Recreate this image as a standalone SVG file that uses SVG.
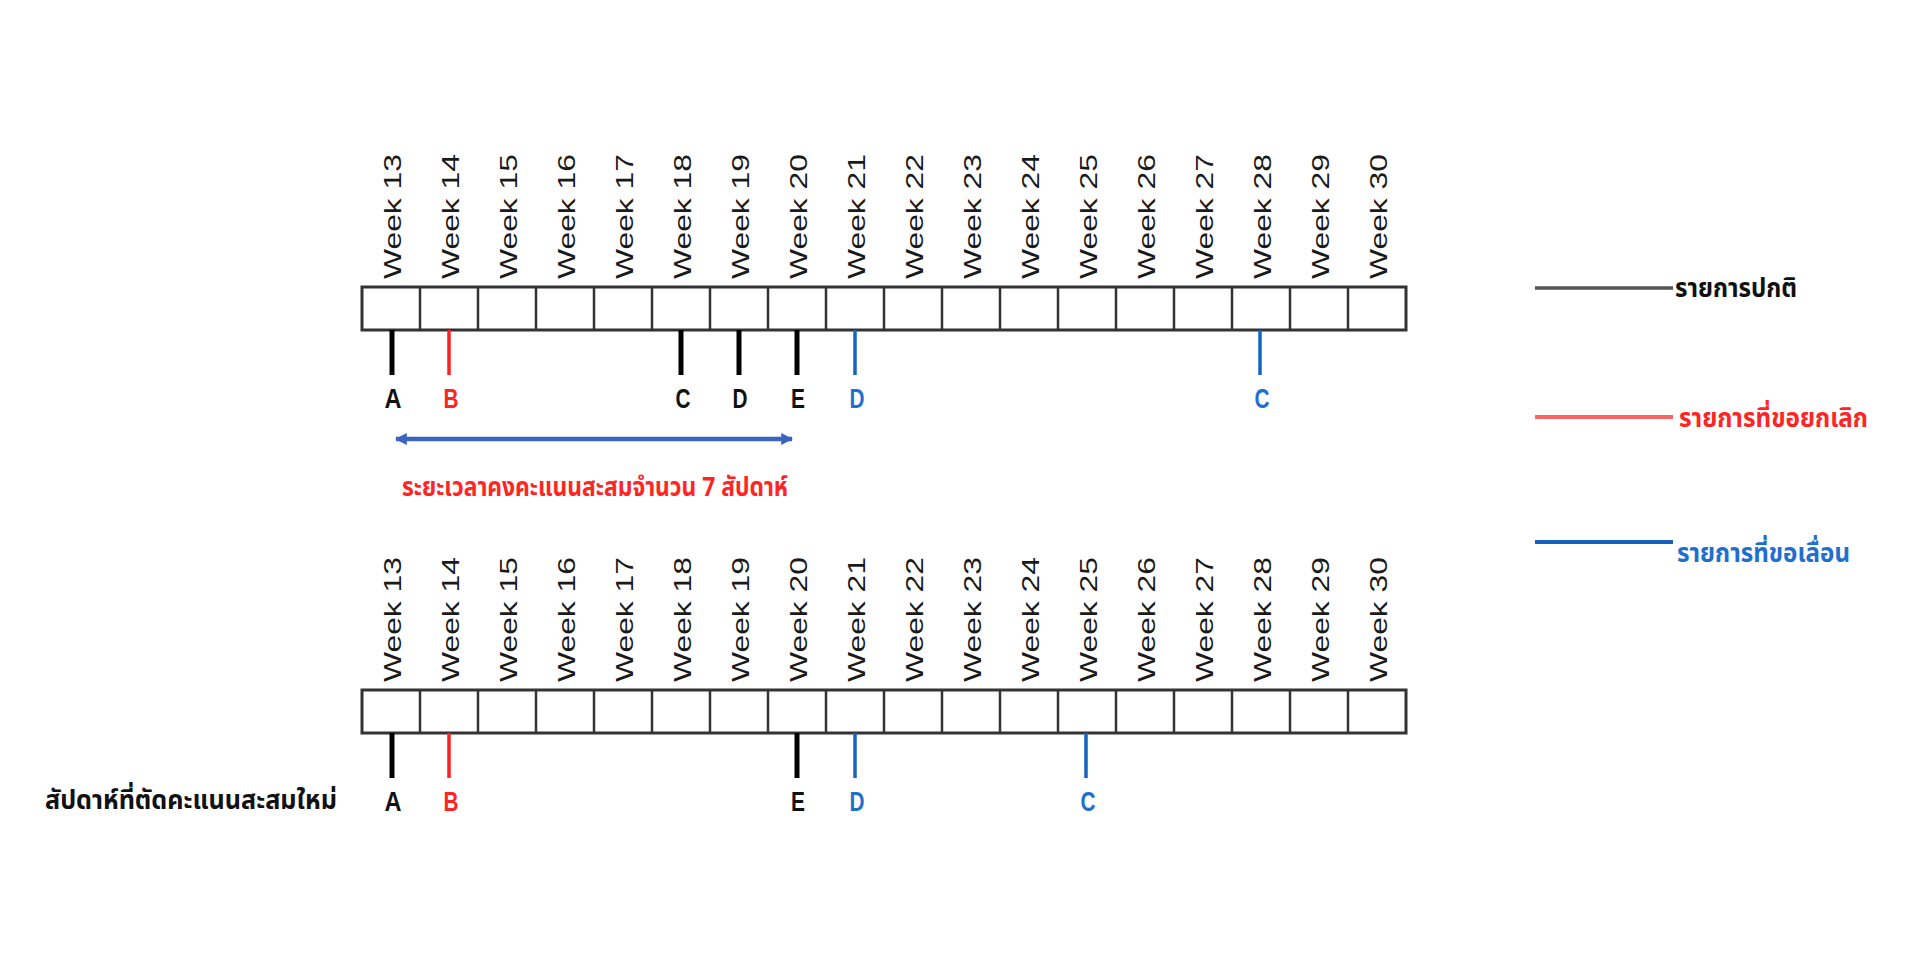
<svg xmlns="http://www.w3.org/2000/svg" width="1924" height="956" viewBox="0 0 1924 956">
<defs>
<style>
.wk{font-family:"Liberation Sans",Arial,sans-serif;font-size:24px;fill:#1a1a1a;}
.box{fill:#fff;stroke:#333;stroke-width:3;}
.div{stroke:#333;stroke-width:2.5;}
.lbl{font-family:"Liberation Sans",Arial,sans-serif;font-size:28px;font-weight:bold;text-anchor:middle;}
.th{font-family:"Noto Sans Thai","Noto Sans Thai UI","Loma","Garuda","Tlwg Typo","Noto Sans","DejaVu Sans",sans-serif;font-size:26px;font-weight:bold;}
.k{fill:#111;} .r{fill:#ff2525;} .b{fill:#1f6fce;}
.tk{stroke:#000;stroke-width:5;} .tr{stroke:#ff2020;stroke-width:3.5;} .tb{stroke:#1565c0;stroke-width:3.5;}
</style>
<marker id="ah" viewBox="0 0 10 10" refX="9" refY="5" markerWidth="12" markerHeight="12" markerUnits="userSpaceOnUse" orient="auto-start-reverse">
<path d="M0,0 L10,5 L0,10 z" fill="#3b63c4"/>
</marker>
</defs>
<rect width="1924" height="956" fill="#fff"/>

<g id="chart-top">
<rect class="box" x="362" y="287" width="1044" height="43"/>
<path class="div" d="M420,287V330M478,287V330M536,287V330M594,287V330M652,287V330M710,287V330M768,287V330M826,287V330M884,287V330M942,287V330M1000,287V330M1058,287V330M1116,287V330M1174,287V330M1232,287V330M1290,287V330M1348,287V330"/>
<g class="wk">
<text transform="translate(401,279) rotate(-90)" textLength="125" lengthAdjust="spacingAndGlyphs">Week 13</text>
<text transform="translate(459,279) rotate(-90)" textLength="125" lengthAdjust="spacingAndGlyphs">Week 14</text>
<text transform="translate(517,279) rotate(-90)" textLength="125" lengthAdjust="spacingAndGlyphs">Week 15</text>
<text transform="translate(575,279) rotate(-90)" textLength="125" lengthAdjust="spacingAndGlyphs">Week 16</text>
<text transform="translate(633,279) rotate(-90)" textLength="125" lengthAdjust="spacingAndGlyphs">Week 17</text>
<text transform="translate(691,279) rotate(-90)" textLength="125" lengthAdjust="spacingAndGlyphs">Week 18</text>
<text transform="translate(749,279) rotate(-90)" textLength="125" lengthAdjust="spacingAndGlyphs">Week 19</text>
<text transform="translate(807,279) rotate(-90)" textLength="125" lengthAdjust="spacingAndGlyphs">Week 20</text>
<text transform="translate(865,279) rotate(-90)" textLength="125" lengthAdjust="spacingAndGlyphs">Week 21</text>
<text transform="translate(923,279) rotate(-90)" textLength="125" lengthAdjust="spacingAndGlyphs">Week 22</text>
<text transform="translate(981,279) rotate(-90)" textLength="125" lengthAdjust="spacingAndGlyphs">Week 23</text>
<text transform="translate(1039,279) rotate(-90)" textLength="125" lengthAdjust="spacingAndGlyphs">Week 24</text>
<text transform="translate(1097,279) rotate(-90)" textLength="125" lengthAdjust="spacingAndGlyphs">Week 25</text>
<text transform="translate(1155,279) rotate(-90)" textLength="125" lengthAdjust="spacingAndGlyphs">Week 26</text>
<text transform="translate(1213,279) rotate(-90)" textLength="125" lengthAdjust="spacingAndGlyphs">Week 27</text>
<text transform="translate(1271,279) rotate(-90)" textLength="125" lengthAdjust="spacingAndGlyphs">Week 28</text>
<text transform="translate(1329,279) rotate(-90)" textLength="125" lengthAdjust="spacingAndGlyphs">Week 29</text>
<text transform="translate(1387,279) rotate(-90)" textLength="125" lengthAdjust="spacingAndGlyphs">Week 30</text>
</g>
</g>

<g id="markers-top">
<line class="tk" x1="392" y1="330" x2="392" y2="375"/>
<line class="tr" x1="449" y1="330" x2="449" y2="375"/>
<line class="tk" x1="681" y1="330" x2="681" y2="375"/>
<line class="tk" x1="739" y1="330" x2="739" y2="375"/>
<line class="tk" x1="797" y1="330" x2="797" y2="375"/>
<line class="tb" x1="855" y1="330" x2="855" y2="375"/>
<line class="tb" x1="1260" y1="330" x2="1260" y2="375"/>
<text class="lbl k" x="393" y="408" textLength="17" lengthAdjust="spacingAndGlyphs">A</text>
<text class="lbl r" x="451" y="408" textLength="15" lengthAdjust="spacingAndGlyphs">B</text>
<text class="lbl k" x="683" y="408" textLength="15" lengthAdjust="spacingAndGlyphs">C</text>
<text class="lbl k" x="740" y="408" textLength="15" lengthAdjust="spacingAndGlyphs">D</text>
<text class="lbl k" x="798" y="408" textLength="14" lengthAdjust="spacingAndGlyphs">E</text>
<text class="lbl b" x="857" y="408" textLength="15" lengthAdjust="spacingAndGlyphs">D</text>
<text class="lbl b" x="1262" y="408" textLength="15" lengthAdjust="spacingAndGlyphs">C</text>
</g>

<g id="connectors">
<line x1="396" y1="439" x2="792" y2="439" stroke="#3b63c4" stroke-width="4.5" marker-start="url(#ah)" marker-end="url(#ah)"/>
</g>
<g id="period-label">
<text class="th r" x="402" y="496" textLength="386" lengthAdjust="spacingAndGlyphs">ระยะเวลาคงคะแนนสะสมจำนวน 7 สัปดาห์</text>
</g>

<g id="chart-bottom">
<rect class="box" x="362" y="690" width="1044" height="43"/>
<path class="div" d="M420,690V733M478,690V733M536,690V733M594,690V733M652,690V733M710,690V733M768,690V733M826,690V733M884,690V733M942,690V733M1000,690V733M1058,690V733M1116,690V733M1174,690V733M1232,690V733M1290,690V733M1348,690V733"/>
<g class="wk">
<text transform="translate(401,682) rotate(-90)" textLength="125" lengthAdjust="spacingAndGlyphs">Week 13</text>
<text transform="translate(459,682) rotate(-90)" textLength="125" lengthAdjust="spacingAndGlyphs">Week 14</text>
<text transform="translate(517,682) rotate(-90)" textLength="125" lengthAdjust="spacingAndGlyphs">Week 15</text>
<text transform="translate(575,682) rotate(-90)" textLength="125" lengthAdjust="spacingAndGlyphs">Week 16</text>
<text transform="translate(633,682) rotate(-90)" textLength="125" lengthAdjust="spacingAndGlyphs">Week 17</text>
<text transform="translate(691,682) rotate(-90)" textLength="125" lengthAdjust="spacingAndGlyphs">Week 18</text>
<text transform="translate(749,682) rotate(-90)" textLength="125" lengthAdjust="spacingAndGlyphs">Week 19</text>
<text transform="translate(807,682) rotate(-90)" textLength="125" lengthAdjust="spacingAndGlyphs">Week 20</text>
<text transform="translate(865,682) rotate(-90)" textLength="125" lengthAdjust="spacingAndGlyphs">Week 21</text>
<text transform="translate(923,682) rotate(-90)" textLength="125" lengthAdjust="spacingAndGlyphs">Week 22</text>
<text transform="translate(981,682) rotate(-90)" textLength="125" lengthAdjust="spacingAndGlyphs">Week 23</text>
<text transform="translate(1039,682) rotate(-90)" textLength="125" lengthAdjust="spacingAndGlyphs">Week 24</text>
<text transform="translate(1097,682) rotate(-90)" textLength="125" lengthAdjust="spacingAndGlyphs">Week 25</text>
<text transform="translate(1155,682) rotate(-90)" textLength="125" lengthAdjust="spacingAndGlyphs">Week 26</text>
<text transform="translate(1213,682) rotate(-90)" textLength="125" lengthAdjust="spacingAndGlyphs">Week 27</text>
<text transform="translate(1271,682) rotate(-90)" textLength="125" lengthAdjust="spacingAndGlyphs">Week 28</text>
<text transform="translate(1329,682) rotate(-90)" textLength="125" lengthAdjust="spacingAndGlyphs">Week 29</text>
<text transform="translate(1387,682) rotate(-90)" textLength="125" lengthAdjust="spacingAndGlyphs">Week 30</text>
</g>
</g>

<g id="markers-bottom">
<line class="tk" x1="392" y1="733" x2="392" y2="778"/>
<line class="tr" x1="449" y1="733" x2="449" y2="778"/>
<line class="tk" x1="797" y1="733" x2="797" y2="778"/>
<line class="tb" x1="855" y1="733" x2="855" y2="778"/>
<line class="tb" x1="1086" y1="733" x2="1086" y2="778"/>
<text class="lbl k" x="393" y="811" textLength="17" lengthAdjust="spacingAndGlyphs">A</text>
<text class="lbl r" x="451" y="811" textLength="15" lengthAdjust="spacingAndGlyphs">B</text>
<text class="lbl k" x="798" y="811" textLength="14" lengthAdjust="spacingAndGlyphs">E</text>
<text class="lbl b" x="857" y="811" textLength="15" lengthAdjust="spacingAndGlyphs">D</text>
<text class="lbl b" x="1088" y="811" textLength="15" lengthAdjust="spacingAndGlyphs">C</text>
</g>

<g id="row-label">
<text class="th k" x="45" y="809" textLength="292" lengthAdjust="spacingAndGlyphs">สัปดาห์ที่ตัดคะแนนสะสมใหม่</text>
</g>

<g id="legend">
<g id="legend-normal">
<line x1="1535" y1="288" x2="1673" y2="288" stroke="#555" stroke-width="3.5"/>
<text class="th k" x="1675" y="297" textLength="122" lengthAdjust="spacingAndGlyphs">รายการปกติ</text>
</g>
<g id="legend-cancel">
<line x1="1535" y1="417" x2="1673" y2="417" stroke="#ff6464" stroke-width="4"/>
<text class="th r" x="1679" y="427" textLength="189" lengthAdjust="spacingAndGlyphs">รายการที่ขอยกเลิก</text>
</g>
<g id="legend-postpone">
<line x1="1535" y1="542" x2="1673" y2="542" stroke="#1560c0" stroke-width="4"/>
<text class="th b" x="1677" y="562" textLength="173" lengthAdjust="spacingAndGlyphs">รายการที่ขอเลื่อน</text>
</g>
</g>
</svg>
